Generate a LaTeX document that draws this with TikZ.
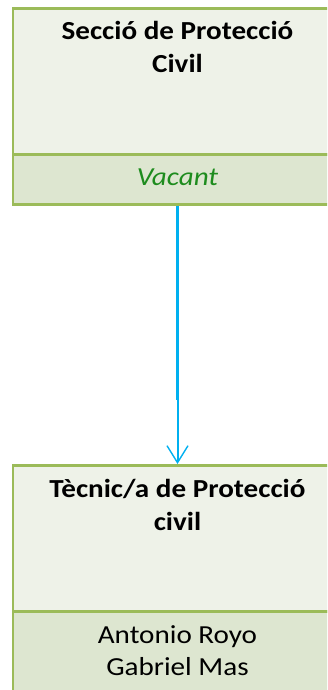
\documentclass[tikz,border=0pt]{standalone}
\usepackage{fontspec}
\setmainfont[FakeStretch=1.12]{Carlito}
\usetikzlibrary{arrows.meta}
\definecolor{boxborder}{HTML}{9BBB59}
\definecolor{toppart}{HTML}{EEF2E8}
\definecolor{botpart}{HTML}{DDE6D0}
\definecolor{vacgreen}{HTML}{1E8C1E}
\definecolor{linkblue}{HTML}{00B0F0}
\begin{document}
\begin{tikzpicture}[x=1pt,y=1pt,
  upper/.style={draw=boxborder, fill=toppart, line width=2.8pt, minimum width=329pt, minimum height=146pt, inner sep=0pt, anchor=north},
  lower/.style={draw=boxborder, fill=botpart, line width=2.8pt, minimum width=329pt, inner sep=0pt, anchor=north},
  titletext/.style={font=\fontsize{26}{33}\selectfont\bfseries, align=center, inner sep=0pt, anchor=base},
  nametext/.style={font=\fontsize{26}{32}\selectfont, align=center, inner sep=0pt, anchor=base},
  link/.style={draw=linkblue, color=linkblue}]
\clip (0,0) rectangle (327,-690);
\fill[white] (0,0) rectangle (327,-690);
% upper box
\node[upper] (secU) at (177.5,-7) {};
\node[lower, minimum height=50pt] (secL) at (177.5,-153) {};
\node[titletext] (secT) at (177.5,-73) {Secció de Protecció\\Civil};
\node[nametext, text=vacgreen, font=\fontsize{26}{32}\selectfont\itshape] (secN) at (177.5,-185) {Vacant};
% lower box
\node[upper] (tecU) at (177.5,-464) {};
\node[lower, minimum height=100pt] (tecL) at (177.5,-610) {};
\node[titletext] (tecT) at (177.5,-530) {Tècnic/a de Protecció\\civil};
\node[nametext] (tecN) at (177.5,-675) {Antonio Royo\\Gabriel Mas};
% connector
\coordinate (mid) at (177.5,-400);
\draw[link, line width=3.2pt] (secL.south) -- (mid);
\draw[link, line width=2pt, line cap=butt, -{Straight Barb[length=17pt,width=21pt,line width=1.4pt]}] (mid) -- (tecU.north);
\end{tikzpicture}
\end{document}
